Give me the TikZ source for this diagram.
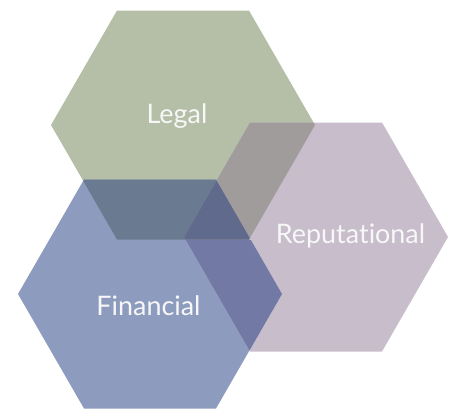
\documentclass[tikz,border=0pt]{standalone}
\usepackage{fontspec}
\setmainfont{Lato}[Ligatures={NoCommon}]
\usepackage{xcolor}
\definecolor{legalgreen}{HTML}{B5BFA7}
\definecolor{finblue}{HTML}{8D9BBE}
\definecolor{repmauve}{HTML}{C7BDCB}
\definecolor{legfin}{HTML}{6A7A90}
\definecolor{legrep}{HTML}{A19C9C}
\definecolor{finrep}{HTML}{7279A5}
\definecolor{allthree}{HTML}{606A8C}
\newcommand{\hexat}[1]{(#1) ++(-132,0) -- ++(66,-114.5) -- ++(132,0) -- ++(66,114.5) -- ++(-66,114.5) -- ++(-132,0) -- cycle}
\tikzset{riskname/.style={text=white!94!gray,font=\fontsize{27}{30}\selectfont,anchor=base,inner sep=0pt}}

\begin{document}
\begin{tikzpicture}[x=1bp,y=-1bp]
    \useasboundingbox (0,0) rectangle (453,409);

    \coordinate (legalc) at (183,125);
    \coordinate (finc) at (150,294);
    \coordinate (repc) at (316,237);

    \fill[legalgreen] \hexat{legalc};
    \fill[finblue] \hexat{finc};
    \fill[repmauve] \hexat{repc};

    % overlaps
    \begin{scope}
      \clip \hexat{legalc};
      \fill[legfin] \hexat{finc};
      \fill[legrep] \hexat{repc};
      \clip \hexat{finc};
      \fill[allthree] \hexat{repc};
    \end{scope}
    \begin{scope}
      \clip \hexat{finc};
      \clip \hexat{repc};
      \fill[finrep] (0,240) rectangle (453,409);
    \end{scope}

    \node[riskname] (legal) at (177,123) {Legal};
    \node[riskname] (financial) at (148.5,315) {Financial};
    \node[riskname] (reputational) at (350.5,243) {Reputational};
  \end{tikzpicture}
\end{document}
